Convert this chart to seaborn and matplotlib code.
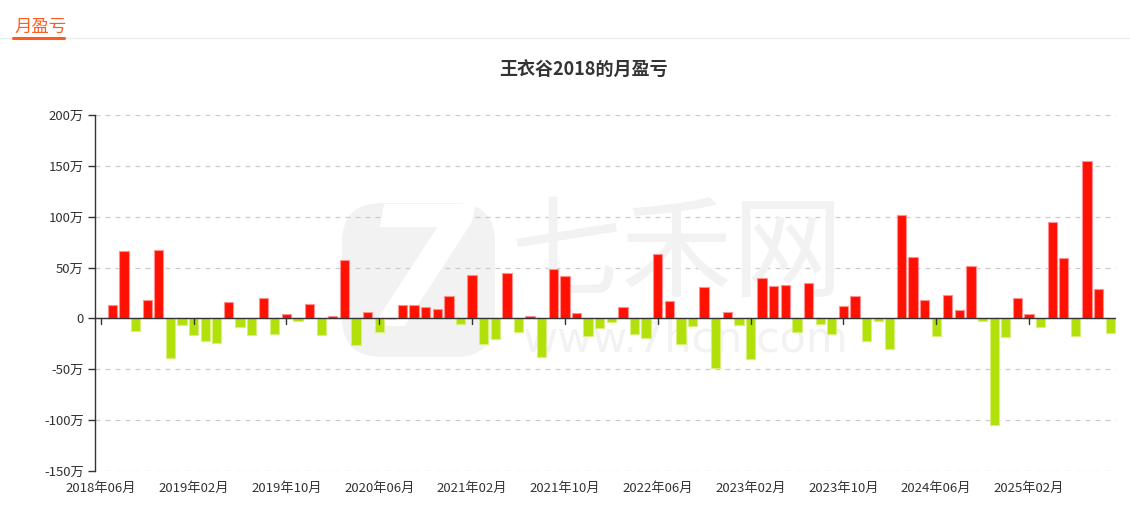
import matplotlib
matplotlib.use("Agg")
import matplotlib.pyplot as plt
from matplotlib.patches import FancyBboxPatch
import numpy as np
import pandas as pd
import seaborn as sns

# monthly profit/loss, unit: 万, from 2018-06 to 2025-09
start_month = "2018-06"
n_months = 88
values = [
    0.5, 13, 66, -12, 18, 67, -39, -6, -16, -22,
    -24, 16, -8, -16, 20, -15, 4.6, -2.6, 14, -16.7,
    2.6, 57, -26, 6, -13, -1, 13.4, 12.8, 11, 9,
    22.5, -5.5, 42.5, -25, -20, 44.5, -13, 2, -37.5, 48.5,
    41.5, 5.5, -17, -9, -3.3, 11, -15.7, -19, 63.5, 17,
    -25, -7.5, 30.5, -49, 6, -6, -39.5, 40, 31.5, 33,
    -13, 35, -5.5, -15.7, 12.5, 22.3, -22.3, -3, -30, 101.5,
    60, 17.7, -17.4, 23.3, 8, 52, -2.3, -104.5, -18.4, 19.7,
    4, -8.5, 94.5, 59, -17, 155, 29, -14.5,
]
y_ticks = [-150, -100, -50, 0, 50, 100, 150, 200]
label_step = 8

months = pd.period_range(start_month, periods=n_months, freq="M")
month_labels = [f"{p.year}年{p.month:02d}月" for p in months]

df = pd.DataFrame({"month": month_labels, "value": values})
df["sign"] = np.where(df["value"] >= 0, "盈", "亏")

sns.set_theme(style="white")
plt.rcParams["font.family"] = ["Noto Sans CJK SC", "DejaVu Sans"]
plt.rcParams["axes.unicode_minus"] = False

W, H = 1130, 513
fig = plt.figure(figsize=(W / 100, H / 100), dpi=100)
ax = fig.add_axes([95 / W, 42 / H, 1021 / W, 356 / H])

red = "#ff1000"
green = "#b2e00a"
sns.barplot(
    data=df, x="month", y="value", hue="sign", order=month_labels,
    palette={"盈": red, "亏": green}, dodge=False, width=0.8,
    legend=False, ax=ax, zorder=3, saturation=1,
)
for bar in ax.patches:
    h = bar.get_height()
    bar.set_edgecolor("#ff9090" if h >= 0 else "#d6f07a")
    bar.set_linewidth(0.8)

ax.set_xlim(-0.5, n_months - 0.5)
ax.set_ylim(-150, 200)
ax.set_yticks(y_ticks)
ax.set_yticklabels([f"{v}万" if v != 0 else "0" for v in y_ticks],
                   fontsize=9.5, color="#333333")
ax.yaxis.grid(True, linestyle=(0, (4, 4)), color="#cccccc", linewidth=0.9)
ax.set_axisbelow(True)

tick_pos = list(range(0, n_months, label_step))
ax.set_xticks(tick_pos)
ax.set_xticklabels([month_labels[i] for i in tick_pos], fontsize=9.5, color="#333333")
ax.tick_params(axis="x", length=0, pad=8)
ax.tick_params(axis="y", length=5, width=1, color="#333333", pad=3, left=True)
ax.set_xlabel("")
ax.set_ylabel("")

for s in ["top", "right", "bottom"]:
    ax.spines[s].set_visible(False)
ax.spines["left"].set_color("#333333")
ax.spines["left"].set_linewidth(1)

# zero line with small ticks at labelled months
ax.axhline(0, color="#333333", linewidth=1, zorder=4)
for i in tick_pos:
    ax.plot([i, i], [0, -5], color="#333333", linewidth=1, zorder=4)

# faint watermark: logo box + site name
wm = "#f2f2f2"
logo = FancyBboxPatch((342 / W, 1 - 357 / H), 153 / W, 154 / H,
                      boxstyle="round,pad=0,rounding_size=0.035",
                      transform=fig.transFigure, facecolor=wm, edgecolor="none",
                      zorder=0.5, mutation_aspect=W / H)
ax.add_patch(logo)
logo.set_clip_on(False)
ax.text((418 - 95) / 1021, (471 - 280) / 356, "7", transform=ax.transAxes,
        fontsize=120, fontweight="bold", fontstyle="italic", color="white",
        ha="center", va="center", zorder=0.6, family="DejaVu Sans")
ax.text((677 - 95) / 1021, (471 - 256) / 356, "七禾网", transform=ax.transAxes,
        fontsize=80, color=wm, ha="center", va="center", zorder=0.6)
ax.text((685 - 95) / 1021, (471 - 339) / 356, "www.7hcn.com", transform=ax.transAxes,
        fontsize=31, color=wm, ha="center", va="center", zorder=0.6,
        family="DejaVu Sans")

fig.text(583 / W, 1 - 70 / H, "王衣谷2018的月盈亏", ha="center", va="center",
         fontsize=13, fontweight="bold", color="#333333")

# header tab
fig.text(14 / W, 1 - 27 / H, "月盈亏", ha="left", va="center",
         fontsize=12.5, color="#ff5a1f")
fig.add_artist(plt.Line2D([0, 1], [1 - 38 / H] * 2, color="#eeeeee", linewidth=1))
fig.add_artist(plt.Line2D([13 / W, 64 / W], [1 - 37.5 / H] * 2,
                          color="#ff5a1f", linewidth=2.2))

fig.savefig("out.png", dpi=100)
